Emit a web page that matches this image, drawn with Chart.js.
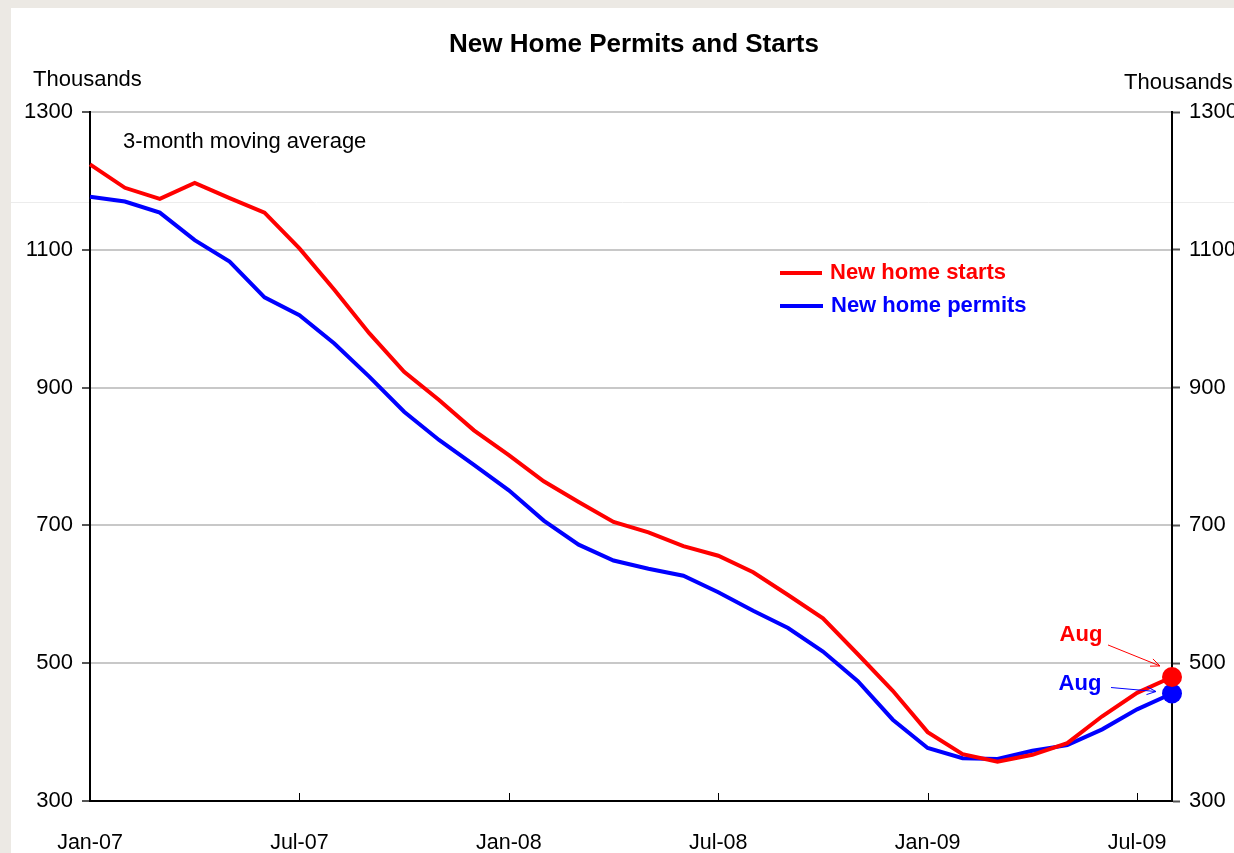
<!DOCTYPE html>
<html>
<head>
<meta charset="utf-8">
<script src="https://cdn.jsdelivr.net/npm/chart.js@4"></script>
<style>
  html, body { margin: 0; padding: 0; background: #ece9e4; }
  #panel { position: absolute; left: 11px; top: 8px; width: 1223px; height: 845px; background: #ffffff; }
  canvas { display: block; }
</style>
</head>
<body>
<div id="panel"><canvas id="permitsGraph" width="1223" height="845"></canvas></div>
<script>
// data (thousands, 3-month moving average)
var months = ['Jan-07','Feb-07','Mar-07','Apr-07','May-07','Jun-07','Jul-07','Aug-07','Sep-07','Oct-07','Nov-07','Dec-07',
              'Jan-08','Feb-08','Mar-08','Apr-08','May-08','Jun-08','Jul-08','Aug-08','Sep-08','Oct-08','Nov-08','Dec-08',
              'Jan-09','Feb-09','Mar-09','Apr-09','May-09','Jun-09','Jul-09','Aug-09'];
var starts = [1224,1190,1174,1197,1175,1154,1102,1042,979,923,882,838,
              802,764,734,705,690,670,656,632,599,565,513,460,
              400,368,357,367,384,423,457,480];
var permits = [1177,1170,1154,1114,1083,1031,1005,964,916,865,824,788,
               751,707,672,649,637,627,603,576,551,517,474,418,
               377,362,361,373,381,404,433,456];
var yTicks = [300,500,700,900,1100,1300];

var FONT = "'Liberation Sans', Arial, sans-serif";
var lastIdx = months.length - 1;

function arrow(ctx, x1, y1, x2, y2, color) {
    var a = Math.atan2(y2 - y1, x2 - x1);
    ctx.strokeStyle = color;
    ctx.lineWidth = 1;
    ctx.beginPath();
    ctx.moveTo(x1, y1);
    ctx.lineTo(x2, y2);
    ctx.moveTo(x2 - 10 * Math.cos(a - 0.4), y2 - 10 * Math.sin(a - 0.4));
    ctx.lineTo(x2, y2);
    ctx.lineTo(x2 - 10 * Math.cos(a + 0.4), y2 - 10 * Math.sin(a + 0.4));
    ctx.stroke();
}

var extras = {
    id: 'extras',
    beforeDraw: function(chart) {
        var ctx = chart.ctx;
        // faint band line across the panel
        ctx.save();
        ctx.strokeStyle = '#ececec';
        ctx.lineWidth = 1;
        ctx.beginPath();
        ctx.moveTo(0, 194.5);
        ctx.lineTo(chart.width, 194.5);
        ctx.stroke();
        ctx.restore();
    },
    afterDraw: function(chart) {
        var ctx = chart.ctx;
        var area = chart.chartArea;
        var x = chart.scales.x;
        ctx.save();

        // inner x tick marks
        ctx.strokeStyle = '#000';
        ctx.lineWidth = 1;
        for (var i = 6; i < months.length; i += 6) {
            var px = Math.round(x.getPixelForValue(i)) + 0.5;
            ctx.beginPath();
            ctx.moveTo(px, area.bottom);
            ctx.lineTo(px, area.bottom - 8);
            ctx.stroke();
        }

        ctx.fillStyle = '#000';
        ctx.textBaseline = 'middle';
        ctx.font = 'bold 26px ' + FONT;
        ctx.textAlign = 'center';
        ctx.fillText('New Home Permits and Starts', 623, 37);

        ctx.font = '22px ' + FONT;
        ctx.textAlign = 'left';
        ctx.fillText('Thousands', 22, 72);
        ctx.fillText('Thousands', 1113, 75);
        ctx.fillText('3-month moving average', area.left + 33, area.top + 30);

        // legend
        ctx.font = 'bold 22px ' + FONT;
        ctx.lineWidth = 4;
        ctx.strokeStyle = '#ff0000';
        ctx.beginPath(); ctx.moveTo(769, 265); ctx.lineTo(811, 265); ctx.stroke();
        ctx.fillStyle = '#ff0000';
        ctx.fillText('New home starts', 819, 265);
        ctx.strokeStyle = '#0000ff';
        ctx.beginPath(); ctx.moveTo(769, 298); ctx.lineTo(812, 298); ctx.stroke();
        ctx.fillStyle = '#0000ff';
        ctx.fillText('New home permits', 820, 298);

        // Aug annotations anchored to last points
        var rp = chart.getDatasetMeta(0).data[lastIdx];
        var bp = chart.getDatasetMeta(1).data[lastIdx];
        ctx.textAlign = 'center';
        ctx.fillStyle = '#ff0000';
        ctx.fillText('Aug', rp.x - 91, rp.y - 42);
        arrow(ctx, rp.x - 64, rp.y - 32, rp.x - 12, rp.y - 11, '#ff0000');
        ctx.fillStyle = '#0000ff';
        ctx.fillText('Aug', bp.x - 92, bp.y - 10);
        arrow(ctx, bp.x - 61, bp.y - 6, bp.x - 16, bp.y - 2, '#0000ff');

        ctx.restore();
    }
};

function lastOnly(r) {
    return function(c) { return c.dataIndex === lastIdx ? r : 0; };
}

function plainTick(v) { return String(v); }

const ctx1 = document.getElementById('permitsGraph').getContext('2d');
const permitsGraph = new Chart(ctx1, {
    type: 'line',
    data: {
        labels: months,
        datasets: [
            {
                label: 'New home starts',
                data: starts,
                borderColor: '#ff0000',
                backgroundColor: '#ff0000',
                borderWidth: 4,
                pointRadius: lastOnly(10),
                pointBorderWidth: 0,
                tension: 0,
                yAxisID: 'y'
            },
            {
                label: 'New home permits',
                data: permits,
                borderColor: '#0000ff',
                backgroundColor: '#0000ff',
                borderWidth: 4,
                pointRadius: lastOnly(10),
                pointBorderWidth: 0,
                tension: 0,
                yAxisID: 'y'
            }
        ]
    },
    options: {
        responsive: false,
        animation: false,
        layout: { padding: { top: 104, left: 0, right: 0, bottom: 0 } },
        plugins: {
            legend: { display: false },
            title: { display: false },
            tooltip: { enabled: false }
        },
        scales: {
            x: {
                offset: false,
                grid: { display: false },
                border: { display: true, color: '#000', width: 2 },
                ticks: {
                    autoSkip: false,
                    maxRotation: 0,
                    padding: 21,
                    color: '#000',
                    font: { family: FONT, size: 21.5 },
                    callback: function(v, i) { return i % 6 === 0 ? months[i] : ''; }
                },
                afterFit: function(s) { s.height = 52; }
            },
            y: {
                position: 'left',
                min: 300,
                max: 1300,
                afterBuildTicks: function(s) { s.ticks = yTicks.map(function(v) { return { value: v }; }); },
                grid: {
                    color: function(c) { return c.tick && c.tick.value === 300 ? 'rgba(0,0,0,0)' : '#c8c8c8'; },
                    lineWidth: 2,
                    tickLength: 8,
                    tickColor: '#555',
                    tickWidth: 2
                },
                border: { display: true, color: '#000', width: 2 },
                ticks: {
                    padding: 9,
                    color: '#000',
                    font: { family: FONT, size: 22 },
                    callback: plainTick
                },
                afterFit: function(s) { s.width = 79; }
            },
            y2: {
                position: 'right',
                min: 300,
                max: 1300,
                afterBuildTicks: function(s) { s.ticks = yTicks.map(function(v) { return { value: v }; }); },
                grid: {
                    drawOnChartArea: false,
                    tickLength: 8,
                    tickColor: '#555',
                    tickWidth: 2
                },
                border: { display: true, color: '#000', width: 2 },
                ticks: {
                    padding: 9,
                    color: '#000',
                    font: { family: FONT, size: 22 },
                    callback: plainTick
                },
                afterFit: function(s) { s.width = 62; }
            }
        }
    },
    plugins: [extras]
});
</script>
</body>
</html>
